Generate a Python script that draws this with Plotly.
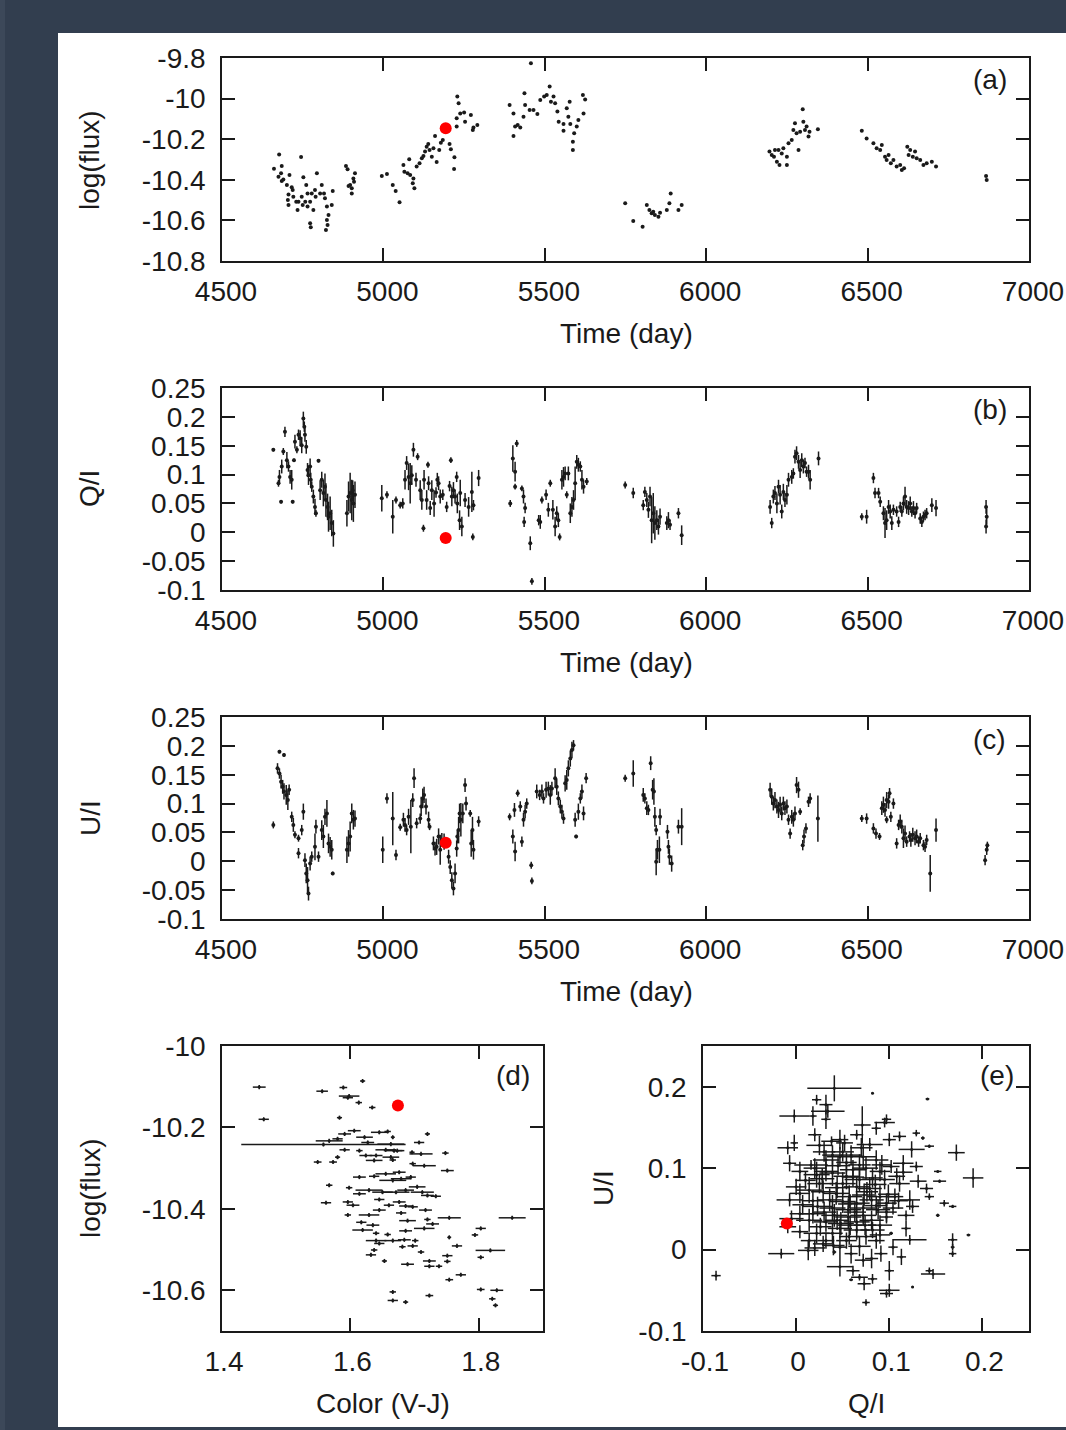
import plotly.graph_objects as go

# ---------------- DATA ----------------
# Panel (a): time (day) vs log(flux)
a_time = [4677,4661,4685,4683,4675,4685,4690,4709,4701,4716,4719,4706,4721,4704,4706,4737,4734,4745,4752,4761,4765,4758,4765,4773,4778,4794,4790,4783,4773,4775,4804,4809,4816,4819,4825,4830,4825,4827,4822,4840,4843,4788,4747,4730,4750,
          4884,4889,4912,4907,4897,4892,4902,4902,4909,
          4995,5011,5029,5038,5050,5062,5065,5075,5080,5083,5093,5091,5096,5103,5112,5119,5124,5129,5134,5139,5143,5150,5155,5160,5165,5173,5178,5184,5205,5209,5220,5219,5229,5233,5227,5227,5238,5250,5253,5271,5279,5291,5277,
          5457,5391,5403,5416,5403,5408,5424,5434,5437,5439,5453,5465,5477,5486,5498,5515,5506,5519,5527,5532,5539,5543,5558,5558,5568,5577,5573,5587,5587,5591,5599,5604,5618,5625,5620,5579,
          5749,5774,5803,5816,5824,5831,5841,5852,5857,5878,5886,5890,5914,5924,5836,
          6196,6203,6210,6219,6224,6234,6239,6250,6250,6255,6265,6270,6275,6280,6291,6286,6299,6301,6306,6311,6317,6320,6346,6213,6227,
          6482,6497,6518,6528,6539,6544,6554,6559,6572,6580,6590,6601,6606,6613,6623,6632,6640,6647,6652,6663,6673,6683,6699,6712,6627,6565,
          6867,6869]
a_flux = [-10.275,-10.345,-10.332,-10.368,-10.385,-10.406,-10.398,-10.376,-10.426,-10.437,-10.450,-10.472,-10.483,-10.500,-10.524,-10.508,-10.549,-10.288,-10.388,-10.426,-10.467,-10.508,-10.532,-10.508,-10.467,-10.368,-10.483,-10.549,-10.614,-10.634,-10.467,-10.426,-10.467,-10.491,-10.532,-10.573,-10.598,-10.623,-10.647,-10.524,-10.455,-10.450,-10.483,-10.508,-10.524,
          -10.332,-10.348,-10.368,-10.393,-10.426,-10.431,-10.442,-10.467,-10.409,
          -10.381,-10.371,-10.426,-10.455,-10.511,-10.327,-10.360,-10.368,-10.299,-10.376,-10.393,-10.417,-10.442,-10.335,-10.319,-10.294,-10.283,-10.261,-10.237,-10.224,-10.253,-10.286,-10.245,-10.184,-10.312,-10.253,-10.217,-10.204,-10.224,-10.250,-10.289,-10.347,-9.990,-10.023,-10.097,-10.138,-10.073,-10.068,-10.114,-10.081,-10.142,-10.130,-10.155,
          -9.826,-10.032,-10.073,-10.130,-10.184,-10.138,-10.142,-10.089,-9.974,-10.032,-10.056,-10.056,-10.076,-10.007,-9.990,-9.941,-9.982,-10.015,-9.990,-10.023,-10.064,-10.114,-10.125,-10.158,-10.048,-10.015,-10.089,-10.212,-10.253,-10.171,-10.138,-10.105,-9.982,-10.004,-10.073,-10.125,
          -10.516,-10.603,-10.631,-10.524,-10.549,-10.565,-10.573,-10.582,-10.562,-10.549,-10.516,-10.467,-10.549,-10.524,-10.557,
          -10.261,-10.278,-10.286,-10.311,-10.253,-10.270,-10.245,-10.286,-10.327,-10.220,-10.204,-10.155,-10.122,-10.171,-10.163,-10.253,-10.053,-10.114,-10.155,-10.138,-10.187,-10.163,-10.151,-10.253,-10.327,
          -10.158,-10.196,-10.220,-10.245,-10.253,-10.229,-10.286,-10.302,-10.319,-10.302,-10.335,-10.327,-10.352,-10.343,-10.237,-10.253,-10.286,-10.261,-10.294,-10.302,-10.327,-10.319,-10.311,-10.335,-10.278,-10.278,
          -10.381,-10.401]

# Panel (b): time vs Q/I
b_time = [4659,4695,4685,4678,4675,4683,4690,4701,4706,4711,4716,4719,4723,4726,4732,4737,4742,4747,4752,4755,4757,4761,4765,4768,4773,4775,4778,4783,4788,4791,4799,4804,4809,4814,4819,4822,4827,4830,4835,4840,4845,4887,4892,4897,4902,4907,4912,4905,
          4995,5011,5029,5039,5052,5060,5067,5072,5078,5083,5088,5093,5101,5106,5114,5119,5124,5126,5134,5138,5140,5145,5150,5157,5163,5167,5171,5176,5184,5196,5205,5209,5212,5217,5222,5227,5229,5236,5238,5243,5253,5264,5274,5279,5277,5295,
          5393,5401,5408,5413,5408,5429,5434,5439,5436,5455,5460,5481,5486,5491,5504,5511,5517,5525,5532,5537,5542,5546,5553,5558,5563,5568,5573,5579,5584,5589,5594,5599,5604,5610,5615,5620,5630,
          5749,5774,5805,5810,5816,5821,5826,5831,5836,5841,5847,5852,5857,5878,5883,5888,5914,5924,
          6198,6203,6208,6213,6219,6224,6229,6234,6239,6244,6250,6255,6265,6270,6275,6280,6286,6291,6296,6301,6306,6311,6317,6322,6348,
          6482,6497,6518,6523,6534,6539,6549,6554,6559,6565,6570,6575,6580,6590,6596,6601,6606,6611,6616,6621,6627,6632,6637,6642,6647,6652,6663,6668,6673,6678,6683,6699,6712,
          6867,6869,6867]
b_q = [0.143,0.174,0.114,0.096,0.085,0.053,0.140,0.125,0.114,0.096,0.091,0.053,0.125,0.157,0.143,0.169,0.163,0.151,0.197,0.183,0.169,0.148,0.108,0.099,0.114,0.091,0.079,0.062,0.044,0.033,0.124,0.073,0.091,0.068,0.079,0.056,0.044,0.027,0.033,0.016,-0.002,0.033,0.062,0.068,0.056,0.050,0.065,0.073,
       0.059,0.065,0.027,0.056,0.047,0.050,0.091,0.120,0.096,0.085,0.099,0.143,0.091,0.131,0.073,0.056,0.007,0.091,0.056,0.117,0.085,0.042,0.073,0.050,0.069,0.091,0.085,0.062,0.065,0.044,0.080,0.125,0.062,0.073,0.062,0.096,0.050,0.021,0.068,0.010,0.056,0.044,0.070,0.047,-0.008,0.094,
       0.050,0.128,0.105,0.154,0.079,0.076,0.062,0.042,0.018,-0.019,-0.085,0.021,0.018,0.056,0.065,0.039,0.085,0.039,0.010,0.033,0.021,-0.008,0.091,0.096,0.102,0.065,0.102,0.033,0.044,0.056,0.085,0.122,0.117,0.114,0.091,0.079,0.088,
       0.082,0.068,0.047,0.070,0.056,0.039,0.062,0.021,0.033,0.016,0.021,0.010,0.027,0.016,0.021,0.013,0.033,-0.005,
       0.044,0.016,0.062,0.068,0.050,0.079,0.065,0.036,0.070,0.056,0.065,0.091,0.096,0.102,0.131,0.137,0.122,0.108,0.125,0.114,0.120,0.105,0.105,0.091,0.128,
       0.027,0.027,0.094,0.068,0.068,0.053,0.033,0.016,0.021,0.044,0.036,0.016,0.039,0.036,0.018,0.044,0.036,0.050,0.062,0.044,0.042,0.050,0.036,0.042,0.033,0.042,0.024,0.018,0.027,0.030,0.033,0.047,0.042,
       0.044,0.027,0.010]
b_err = [0.003,0.009,0.012,0.012,0.006,0.003,0.006,0.014,0.009,0.012,0.017,0.003,0.003,0.012,0.006,0.009,0.014,0.014,0.012,0.009,0.012,0.012,0.012,0.017,0.014,0.012,0.009,0.012,0.014,0.006,0.003,0.017,0.014,0.023,0.023,0.029,0.023,0.026,0.029,0.023,0.023,0.023,0.026,0.035,0.035,0.032,0.023,0.017,
         0.023,0.006,0.029,0.006,0.006,0.009,0.017,0.012,0.023,0.035,0.017,0.012,0.012,0.006,0.017,0.017,0.006,0.017,0.017,0.005,0.012,0.012,0.017,0.023,0.009,0.012,0.012,0.012,0.009,0.009,0.009,0.005,0.017,0.014,0.012,0.009,0.017,0.017,0.023,0.017,0.012,0.017,0.035,0.009,0.006,0.014,
         0.006,0.023,0.017,0.006,0.005,0.005,0.012,0.009,0.009,0.012,0.006,0.009,0.012,0.006,0.009,0.012,0.006,0.017,0.017,0.012,0.012,0.006,0.017,0.017,0.012,0.006,0.012,0.017,0.017,0.017,0.029,0.012,0.012,0.009,0.017,0.012,0.006,
         0.006,0.009,0.009,0.009,0.012,0.014,0.017,0.040,0.035,0.029,0.017,0.014,0.014,0.012,0.014,0.009,0.009,0.017,
         0.012,0.009,0.012,0.012,0.017,0.012,0.017,0.012,0.014,0.012,0.017,0.012,0.012,0.009,0.012,0.012,0.012,0.014,0.012,0.012,0.009,0.009,0.012,0.017,0.012,
         0.006,0.012,0.009,0.009,0.009,0.009,0.012,0.026,0.017,0.012,0.012,0.012,0.009,0.009,0.009,0.009,0.009,0.012,0.017,0.012,0.012,0.012,0.009,0.012,0.009,0.009,0.009,0.009,0.009,0.009,0.009,0.012,0.014,
         0.012,0.014,0.012]

# Panel (c): time vs U/I
c_time = [4659,4678,4692,4672,4678,4683,4688,4692,4699,4704,4708,4716,4721,4726,4737,4737,4747,4752,4757,4761,4765,4768,4773,4778,4788,4791,4799,4809,4814,4819,4825,4830,4835,4840,4843,4887,4892,4897,4902,4907,4912,
          4998,5011,5029,5039,5052,5062,5067,5072,5078,5085,5091,5095,5103,5114,5117,5122,5126,5132,5140,5143,5155,5160,5165,5171,5176,5181,5188,5202,5207,5212,5217,5222,5227,5229,5233,5236,5240,5246,5253,5256,5269,5272,5276,5279,5295,
          5391,5401,5408,5406,5416,5424,5429,5434,5439,5444,5458,5460,5475,5484,5491,5496,5504,5511,5517,5522,5532,5537,5542,5548,5553,5558,5563,5568,5573,5579,5584,5589,5594,5597,5604,5610,5615,5620,5628,
          5749,5774,5805,5810,5816,5821,5828,5834,5838,5841,5845,5845,5849,5855,5857,5880,5883,5886,5893,5914,5924,
          6198,6203,6208,6213,6219,6224,6229,6234,6239,6244,6250,6255,6260,6265,6270,6275,6280,6286,6291,6299,6303,6309,6317,6322,6346,
          6482,6497,6518,6526,6537,6544,6549,6554,6559,6565,6568,6559,6572,6580,6590,6596,6601,6606,6611,6616,6621,6630,6634,6640,6647,6652,6658,6663,6673,6678,6683,6694,6712,
          6864,6869,6871]
c_u = [0.063,0.190,0.184,0.161,0.152,0.138,0.129,0.121,0.115,0.106,0.124,0.077,0.063,0.046,0.040,0.014,0.054,0.086,0.002,-0.021,-0.033,-0.056,-0.004,0.008,0.025,0.060,0.008,0.054,0.043,0.077,0.083,0.031,0.025,0.020,-0.021,0.020,0.031,0.043,0.083,0.072,0.074,
       0.020,0.109,0.074,0.011,0.059,0.072,0.063,0.054,0.077,0.060,0.106,0.144,0.066,0.074,0.095,0.109,0.115,0.095,0.072,0.060,0.031,0.022,0.025,0.043,0.020,0.037,0.034,0.008,-0.010,-0.033,-0.047,-0.021,0.022,0.043,0.054,0.083,0.072,0.083,0.132,0.100,0.083,0.031,0.054,0.020,0.069,
       0.077,0.043,0.017,0.089,0.118,0.095,0.034,0.072,0.086,0.100,-0.007,-0.034,0.121,0.115,0.121,0.109,0.124,0.126,0.115,0.126,0.144,0.129,0.109,0.095,0.086,0.074,0.135,0.141,0.161,0.178,0.193,0.201,0.072,0.043,0.086,0.109,0.121,0.083,0.144,
       0.144,0.152,0.115,0.109,0.092,0.089,0.170,0.124,0.121,0.077,0.054,-0.001,0.020,0.020,0.077,0.051,0.025,0.008,-0.004,0.060,0.060,
       0.124,0.112,0.100,0.106,0.095,0.089,0.098,0.083,0.100,0.092,0.095,0.072,0.048,0.077,0.072,0.083,0.132,0.124,0.086,0.028,0.043,0.057,0.103,0.109,0.074,
       0.074,0.074,0.057,0.048,0.043,0.092,0.098,0.089,0.106,0.103,0.118,0.072,0.077,0.100,0.031,0.063,0.069,0.060,0.040,0.048,0.034,0.043,0.037,0.046,0.040,0.043,0.034,0.040,0.028,0.025,0.037,-0.021,0.054,
       0.002,0.020,0.028]
c_err = [0.006,0.003,0.003,0.009,0.009,0.012,0.012,0.014,0.017,0.017,0.009,0.009,0.012,0.006,0.006,0.009,0.009,0.014,0.012,0.017,0.023,0.012,0.012,0.009,0.023,0.012,0.009,0.017,0.020,0.014,0.023,0.017,0.017,0.017,0.003,0.023,0.023,0.026,0.017,0.017,0.014,
         0.023,0.009,0.046,0.009,0.006,0.012,0.012,0.009,0.014,0.046,0.012,0.017,0.009,0.009,0.017,0.017,0.014,0.014,0.014,0.006,0.012,0.012,0.014,0.014,0.026,0.012,0.014,0.012,0.012,0.014,0.012,0.017,0.014,0.012,0.023,0.017,0.029,0.017,0.012,0.012,0.006,0.023,0.023,0.017,0.009,
         0.006,0.012,0.017,0.012,0.006,0.009,0.009,0.012,0.012,0.009,0.006,0.006,0.012,0.009,0.012,0.009,0.014,0.012,0.017,0.012,0.017,0.014,0.012,0.012,0.012,0.009,0.014,0.017,0.014,0.014,0.014,0.009,0.012,0.003,0.014,0.009,0.012,0.012,0.009,
         0.006,0.023,0.012,0.009,0.012,0.009,0.012,0.017,0.023,0.017,0.009,0.023,0.017,0.023,0.014,0.012,0.012,0.014,0.014,0.012,0.032,
         0.012,0.014,0.012,0.014,0.012,0.014,0.014,0.012,0.012,0.012,0.012,0.009,0.009,0.012,0.012,0.012,0.014,0.014,0.006,0.009,0.012,0.009,0.009,0.009,0.040,
         0.006,0.009,0.009,0.009,0.006,0.012,0.014,0.012,0.014,0.012,0.009,0.006,0.009,0.009,0.009,0.009,0.012,0.012,0.017,0.014,0.009,0.009,0.012,0.012,0.012,0.012,0.009,0.009,0.009,0.009,0.009,0.032,0.020,
         0.009,0.009,0.006]

# Panel (d): colour (V-J) vs log(flux)
d_color = [1.458,1.465,1.556,1.589,1.619,1.598,1.596,1.613,1.634,1.583,
           1.558,1.606,1.622,1.591,1.580,1.567,1.645,1.658,1.666,1.707,
           1.720,1.627,1.663,1.591,1.614,1.655,1.668,1.673,1.624,1.640,
           1.663,1.666,1.637,1.549,1.573,1.580,1.710,1.748,1.696,1.715,
           1.697,1.751,1.676,1.655,1.614,1.637,1.666,1.679,1.694,1.567,
           1.598,1.629,1.650,1.671,1.686,1.704,1.712,1.720,1.733,1.614,
           1.562,1.596,1.604,1.645,1.660,1.676,1.686,1.697,1.717,1.596,
           1.629,1.645,1.679,1.754,1.852,1.617,1.635,1.689,1.720,1.728,
           1.619,1.640,1.658,1.686,1.715,1.803,1.794,1.754,1.640,1.666,
           1.684,1.701,1.645,1.766,1.818,1.681,1.697,1.637,1.632,1.710,
           1.751,1.803,1.653,1.689,1.723,1.751,1.723,1.738,1.772,1.754,
           1.666,1.723,1.666,1.686,1.803,1.828,1.821,1.826]
d_flux = [-10.101,-10.180,-10.111,-10.102,-10.086,-10.123,-10.127,-10.139,-10.151,-10.176,
          -10.242,-10.208,-10.224,-10.216,-10.228,-10.233,-10.212,-10.210,-10.224,-10.237,
          -10.216,-10.237,-10.241,-10.255,-10.257,-10.255,-10.257,-10.257,-10.269,-10.269,
          -10.273,-10.280,-10.281,-10.285,-10.285,-10.273,-10.265,-10.263,-10.261,-10.294,
          -10.289,-10.306,-10.310,-10.314,-10.322,-10.320,-10.330,-10.326,-10.322,-10.342,
          -10.348,-10.354,-10.359,-10.359,-10.354,-10.346,-10.359,-10.367,-10.369,-10.363,
          -10.385,-10.383,-10.391,-10.377,-10.391,-10.383,-10.393,-10.395,-10.403,-10.415,
          -10.415,-10.403,-10.410,-10.422,-10.422,-10.433,-10.440,-10.429,-10.426,-10.437,
          -10.452,-10.460,-10.463,-10.454,-10.448,-10.448,-10.464,-10.470,-10.478,-10.478,
          -10.476,-10.478,-10.485,-10.491,-10.502,-10.493,-10.491,-10.501,-10.513,-10.506,
          -10.515,-10.519,-10.528,-10.536,-10.528,-10.529,-10.541,-10.541,-10.562,-10.574,
          -10.604,-10.613,-10.625,-10.629,-10.598,-10.600,-10.621,-10.637]
d_err = [0.010,0.008,0.009,0.006,0.004,0.016,0.008,0.005,0.005,0.004,
         0.128,0.010,0.013,0.010,0.008,0.021,0.013,0.005,0.003,0.008,
         0.004,0.010,0.021,0.008,0.005,0.016,0.016,0.008,0.010,0.010,
         0.013,0.005,0.013,0.006,0.006,0.004,0.018,0.005,0.004,0.018,
         0.005,0.010,0.010,0.016,0.010,0.008,0.021,0.016,0.008,0.005,
         0.005,0.021,0.016,0.021,0.013,0.013,0.018,0.010,0.008,0.010,
         0.008,0.008,0.010,0.008,0.008,0.010,0.010,0.008,0.010,0.005,
         0.016,0.010,0.008,0.018,0.021,0.008,0.010,0.013,0.005,0.010,
         0.016,0.005,0.005,0.010,0.016,0.008,0.005,0.003,0.016,0.013,
         0.010,0.005,0.008,0.008,0.023,0.005,0.008,0.005,0.008,0.005,
         0.008,0.005,0.004,0.010,0.010,0.005,0.008,0.005,0.008,0.006,
         0.005,0.006,0.008,0.004,0.006,0.010,0.005,0.004]

# Panel (e): Q/I vs U/I
e_q = [-0.086,0.041,0.022,0.032,0.034,-0.002,0.018,0.032,0.082,0.141,
       0.071,0.097,0.095,0.086,0.065,0.020,0.047,-0.009,-0.002,0.025,
       0.038,0.052,0.079,0.100,0.111,0.129,0.136,0.143,0.124,0.172,
       -0.007,0.016,0.032,0.047,0.059,0.072,0.086,0.102,0.115,0.129,
       0.152,0.190,0.004,0.022,0.039,0.054,0.068,0.082,0.095,0.111,
       0.131,0.154,0.140,0.000,0.014,0.029,0.043,0.057,0.073,0.090,
       0.106,0.122,0.143,0.159,0.168,-0.007,0.007,0.023,0.039,0.056,
       0.072,0.088,0.104,0.125,0.152,-0.005,0.014,0.032,0.048,0.065,
       0.081,0.097,0.118,-0.009,0.004,0.022,0.039,0.057,0.075,0.102,
       0.118,0.122,0.185,-0.016,0.013,0.029,0.047,0.059,0.104,0.113,
       0.168,0.168,0.047,0.061,0.072,0.081,0.091,0.147,0.143,0.100,
       0.068,0.073,0.082,0.100,0.097,0.125,0.075,0.059,0.041,0.168,
       0.025,0.050,0.065,0.079,0.036,0.050,0.065,0.081,0.097,0.018,
       0.041,0.056,0.072,0.090,0.047,0.065,0.082,0.032,0.061,0.075,
       0.054,0.039,0.090,0.108,0.054,0.032,0.086,0.014,0.004,0.004,
       0.020,0.045,0.068,0.092,0.028,0.061,0.085,0.044,0.076,0.099,
       0.018,0.058,0.086,0.030,0.063,0.097,0.044,0.074,0.026,0.058,
       0.090,0.040,0.068,0.020,0.110,0.115,0.010,0.050,0.070,0.030]
e_u = [-0.032,0.198,0.184,0.178,0.170,0.164,0.164,0.160,0.192,0.185,
       0.153,0.160,0.156,0.149,0.141,0.141,0.135,0.125,0.131,0.128,
       0.133,0.131,0.129,0.135,0.139,0.143,0.137,0.127,0.123,0.119,
       0.106,0.104,0.110,0.114,0.116,0.114,0.110,0.102,0.106,0.102,
       0.096,0.088,0.096,0.092,0.094,0.090,0.086,0.088,0.086,0.081,
       0.084,0.084,0.075,0.077,0.073,0.071,0.069,0.065,0.067,0.065,
       0.065,0.061,0.065,0.057,0.053,0.061,0.055,0.053,0.051,0.049,
       0.051,0.049,0.051,0.053,0.042,0.038,0.036,0.034,0.032,0.034,
       0.036,0.040,0.042,0.028,0.022,0.020,0.020,0.016,0.016,0.020,
       0.026,0.012,0.018,-0.005,-0.001,0.007,0.003,-0.005,0.003,-0.009,
       0.012,0.003,-0.021,-0.026,-0.013,-0.011,-0.005,-0.030,-0.026,-0.026,
       -0.034,-0.042,-0.036,-0.050,-0.054,-0.046,-0.065,-0.037,-0.003,-0.005,
       0.081,0.081,0.077,0.075,0.061,0.059,0.057,0.061,0.057,0.044,
       0.042,0.040,0.042,0.030,0.026,0.024,0.024,0.096,0.098,0.100,
       0.107,0.116,0.096,0.090,0.011,0.011,0.011,0.011,0.069,0.044,
       0.100,0.103,0.104,0.104,0.087,0.089,0.080,0.076,0.071,0.068,
       0.060,0.056,0.054,0.046,0.046,0.046,0.036,0.030,0.028,0.030,
       0.018,0.005,0.004,0.002,0.060,0.095,0.085,0.120,0.125,0.120]
e_qerr = [0.005,0.029,0.005,0.007,0.018,0.016,0.004,0.005,0.001,0.002,
          0.009,0.005,0.011,0.005,0.007,0.007,0.009,0.011,0.004,0.014,
          0.011,0.009,0.014,0.007,0.007,0.004,0.002,0.005,0.014,0.009,
          0.007,0.018,0.014,0.014,0.011,0.014,0.013,0.009,0.011,0.007,
          0.004,0.011,0.009,0.014,0.014,0.014,0.016,0.011,0.011,0.011,
          0.009,0.007,0.007,0.011,0.014,0.013,0.014,0.014,0.013,0.014,
          0.009,0.011,0.005,0.005,0.004,0.014,0.011,0.016,0.014,0.014,
          0.014,0.013,0.011,0.007,0.002,0.013,0.014,0.013,0.014,0.014,
          0.013,0.007,0.009,0.009,0.009,0.014,0.011,0.011,0.011,0.002,
          0.005,0.018,0.002,0.014,0.011,0.011,0.007,0.007,0.005,0.005,
          0.005,0.002,0.014,0.007,0.009,0.007,0.007,0.013,0.004,0.005,
          0.009,0.007,0.005,0.011,0.007,0.001,0.004,0.002,0.002,0.004,
          0.013,0.014,0.014,0.013,0.013,0.014,0.014,0.013,0.011,0.013,
          0.014,0.014,0.014,0.013,0.013,0.014,0.013,0.013,0.014,0.013,
          0.011,0.011,0.011,0.009,0.011,0.009,0.009,0.009,0.011,0.011,
          0.012,0.013,0.012,0.011,0.013,0.012,0.012,0.013,0.012,0.011,
          0.012,0.013,0.012,0.013,0.012,0.011,0.013,0.012,0.012,0.013,
          0.011,0.012,0.012,0.011,0.010,0.010,0.011,0.012,0.012,0.012]
e_uerr = [0.006,0.016,0.006,0.012,0.008,0.008,0.012,0.012,0.001,0.001,
          0.023,0.006,0.006,0.008,0.006,0.008,0.012,0.008,0.010,0.012,
          0.006,0.010,0.008,0.008,0.006,0.004,0.002,0.002,0.010,0.010,
          0.010,0.006,0.012,0.012,0.012,0.016,0.012,0.008,0.010,0.006,
          0.001,0.012,0.012,0.016,0.016,0.016,0.014,0.012,0.012,0.010,
          0.008,0.002,0.006,0.010,0.016,0.014,0.014,0.014,0.014,0.014,
          0.010,0.012,0.004,0.004,0.002,0.008,0.012,0.012,0.016,0.014,
          0.014,0.012,0.008,0.008,0.002,0.010,0.014,0.012,0.014,0.014,
          0.012,0.008,0.006,0.008,0.008,0.012,0.012,0.010,0.010,0.002,
          0.010,0.006,0.001,0.006,0.012,0.010,0.012,0.012,0.010,0.010,
          0.008,0.004,0.012,0.006,0.008,0.012,0.010,0.006,0.004,0.012,
          0.004,0.008,0.006,0.008,0.005,0.001,0.004,0.001,0.002,0.004,
          0.012,0.014,0.012,0.014,0.014,0.014,0.012,0.012,0.012,0.012,
          0.014,0.014,0.012,0.012,0.012,0.012,0.010,0.012,0.012,0.014,
          0.012,0.012,0.012,0.010,0.010,0.010,0.010,0.008,0.012,0.010,
          0.012,0.012,0.013,0.012,0.013,0.012,0.012,0.013,0.012,0.012,
          0.013,0.012,0.012,0.013,0.012,0.012,0.012,0.012,0.011,0.012,
          0.011,0.012,0.012,0.010,0.010,0.010,0.011,0.012,0.012,0.012]

# Highlighted epoch (red point)
red_time = [5193]
red_flux = [-10.146]
red_q = [-0.010]
red_u = [0.032]
red_color = [1.674]

# Tick values / labels
time_ticks = [4500, 5000, 5500, 6000, 6500, 7000]
time_labels = ["4500", "5000", "5500", "6000", "6500", "7000"]
flux_ticks = [-9.8, -10, -10.2, -10.4, -10.6, -10.8]
flux_labels = ["-9.8", "-10", "-10.2", "-10.4", "-10.6", "-10.8"]
pol_ticks = [0.25, 0.2, 0.15, 0.1, 0.05, 0, -0.05, -0.1]
pol_labels = ["0.25", "0.2", "0.15", "0.1", "0.05", "0", "-0.05", "-0.1"]
col_ticks = [1.4, 1.6, 1.8]
col_labels = ["1.4", "1.6", "1.8"]
dflux_ticks = [-10, -10.2, -10.4, -10.6]
dflux_labels = ["-10", "-10.2", "-10.4", "-10.6"]
e_ticks = [-0.1, 0, 0.1, 0.2]
e_labels = ["-0.1", "0", "0.1", "0.2"]

assert len(a_time) == len(a_flux)
assert len(b_time) == len(b_q) == len(b_err)
assert len(c_time) == len(c_u) == len(c_err)
assert len(d_color) == len(d_flux) == len(d_err)
assert len(e_q) == len(e_u) == len(e_qerr) == len(e_uerr)

# ---------------- FIGURE ----------------
W, H = 1066, 1430
FONT = "Liberation Sans, Arial, sans-serif"
INK = "#1a1a1a"


def xdom(p0, p1):
    return [p0 / W, p1 / W]


def ydom(top, bottom):
    return [1 - bottom / H, 1 - top / H]


def axis(domain, rng, tv, tt, anchor, standoff, shift=0):
    return dict(domain=domain, range=rng, tickvals=tv, ticktext=tt, anchor=anchor,
                showline=True, mirror="ticks", linecolor=INK, linewidth=1.6,
                ticks="inside", ticklen=13, tickwidth=1.6, tickcolor=INK,
                showgrid=False, zeroline=False, automargin=False,
                ticklabelstandoff=standoff, ticklabelshift=shift,
                tickfont=dict(family=FONT, size=28, color=INK))


fig = go.Figure()

err_style = dict(type="data", visible=True, color=INK, thickness=1.5, width=0)

fig.add_trace(go.Scatter(x=a_time, y=a_flux, mode="markers", xaxis="x", yaxis="y",
                         marker=dict(color=INK, size=4)))
fig.add_trace(go.Scatter(x=red_time, y=red_flux, mode="markers", xaxis="x", yaxis="y",
                         marker=dict(color="#ff0000", size=12)))

fig.add_trace(go.Scatter(x=b_time, y=b_q, mode="markers", xaxis="x2", yaxis="y2",
                         error_y=dict(array=b_err, **err_style),
                         marker=dict(color=INK, size=4)))
fig.add_trace(go.Scatter(x=red_time, y=red_q, mode="markers", xaxis="x2", yaxis="y2",
                         marker=dict(color="#ff0000", size=12)))

fig.add_trace(go.Scatter(x=c_time, y=c_u, mode="markers", xaxis="x3", yaxis="y3",
                         error_y=dict(array=c_err, **err_style),
                         marker=dict(color=INK, size=4)))
fig.add_trace(go.Scatter(x=red_time, y=red_u, mode="markers", xaxis="x3", yaxis="y3",
                         marker=dict(color="#ff0000", size=12)))

fig.add_trace(go.Scatter(x=d_color, y=d_flux, mode="markers", xaxis="x4", yaxis="y4",
                         error_x=dict(array=d_err, **err_style),
                         error_y=dict(type="constant", value=0.005, color=INK, thickness=1.5, width=0),
                         marker=dict(color=INK, size=3)))
fig.add_trace(go.Scatter(x=red_color, y=red_flux, mode="markers", xaxis="x4", yaxis="y4",
                         marker=dict(color="#ff0000", size=12)))

fig.add_trace(go.Scatter(x=e_q, y=e_u, mode="markers", xaxis="x5", yaxis="y5",
                         error_x=dict(array=e_qerr, **err_style),
                         error_y=dict(array=e_uerr, **err_style),
                         marker=dict(color=INK, size=3)))
fig.add_trace(go.Scatter(x=red_q, y=red_u, mode="markers", xaxis="x5", yaxis="y5",
                         marker=dict(color="#ff0000", size=12)))

layout = dict(
    width=W, height=H, margin=dict(l=0, r=0, t=0, b=0, pad=0, autoexpand=False),
    paper_bgcolor="#323e4f", plot_bgcolor="white", showlegend=False,
    xaxis=axis(xdom(222, 1029), [4500, 7000], time_ticks, time_labels, "y", 5, 4),
    yaxis=axis(ydom(58, 261), [-10.8, -9.8], flux_ticks, flux_labels, "x", 9),
    xaxis2=axis(xdom(222, 1029), [4500, 7000], time_ticks, time_labels, "y2", 5, 4),
    yaxis2=axis(ydom(388, 590), [-0.1, 0.25], pol_ticks, pol_labels, "x2", 9),
    xaxis3=axis(xdom(222, 1029), [4500, 7000], time_ticks, time_labels, "y3", 5, 4),
    yaxis3=axis(ydom(717, 919), [-0.1, 0.25], pol_ticks, pol_labels, "x3", 9),
    xaxis4=axis(xdom(222, 543), [1.4, 1.9], col_ticks, col_labels, "y4", 5, 2),
    yaxis4=axis(ydom(1046, 1331), [-10.7, -10.0], dflux_ticks, dflux_labels, "x4", 9),
    xaxis5=axis(xdom(703, 1029), [-0.1, 0.25], e_ticks, e_labels, "y5", 5, 2),
    yaxis5=axis(ydom(1046, 1331), [-0.1, 0.25], e_ticks, e_labels, "x5", 9),
    shapes=[dict(type="rect", xref="paper", yref="paper", x0=58 / W, x1=1,
                 y0=1 - 1427 / H, y1=1 - 33 / H, fillcolor="white",
                 line=dict(width=0), layer="below"),
            dict(type="rect", xref="paper", yref="paper", x0=0, x1=5 / W,
                 y0=0, y1=1, fillcolor="#3c4859",
                 line=dict(width=0), layer="below")],
)
fig.update_layout(**layout)


def label(text, px, py, angle=0):
    fig.add_annotation(text=text, xref="paper", yref="paper", x=px / W, y=1 - py / H,
                       xanchor="center", yanchor="middle", showarrow=False, textangle=angle,
                       font=dict(family=FONT, size=28, color=INK))


label("log(flux)", 90, 160, -90)
label("Q/I", 90, 489, -90)
label("U/I", 90, 818, -90)
label("log(flux)", 90, 1188, -90)
label("U/I", 603, 1188, -90)
label("Time (day)", 626, 333)
label("Time (day)", 626, 662)
label("Time (day)", 626, 991)
label("Color (V-J)", 383, 1403)
label("Q/I", 866, 1403)
label("(a)", 990, 80)
label("(b)", 990, 409)
label("(c)", 989, 739)
label("(d)", 513, 1075)
label("(e)", 997, 1075)

fig.write_html("out.html")
